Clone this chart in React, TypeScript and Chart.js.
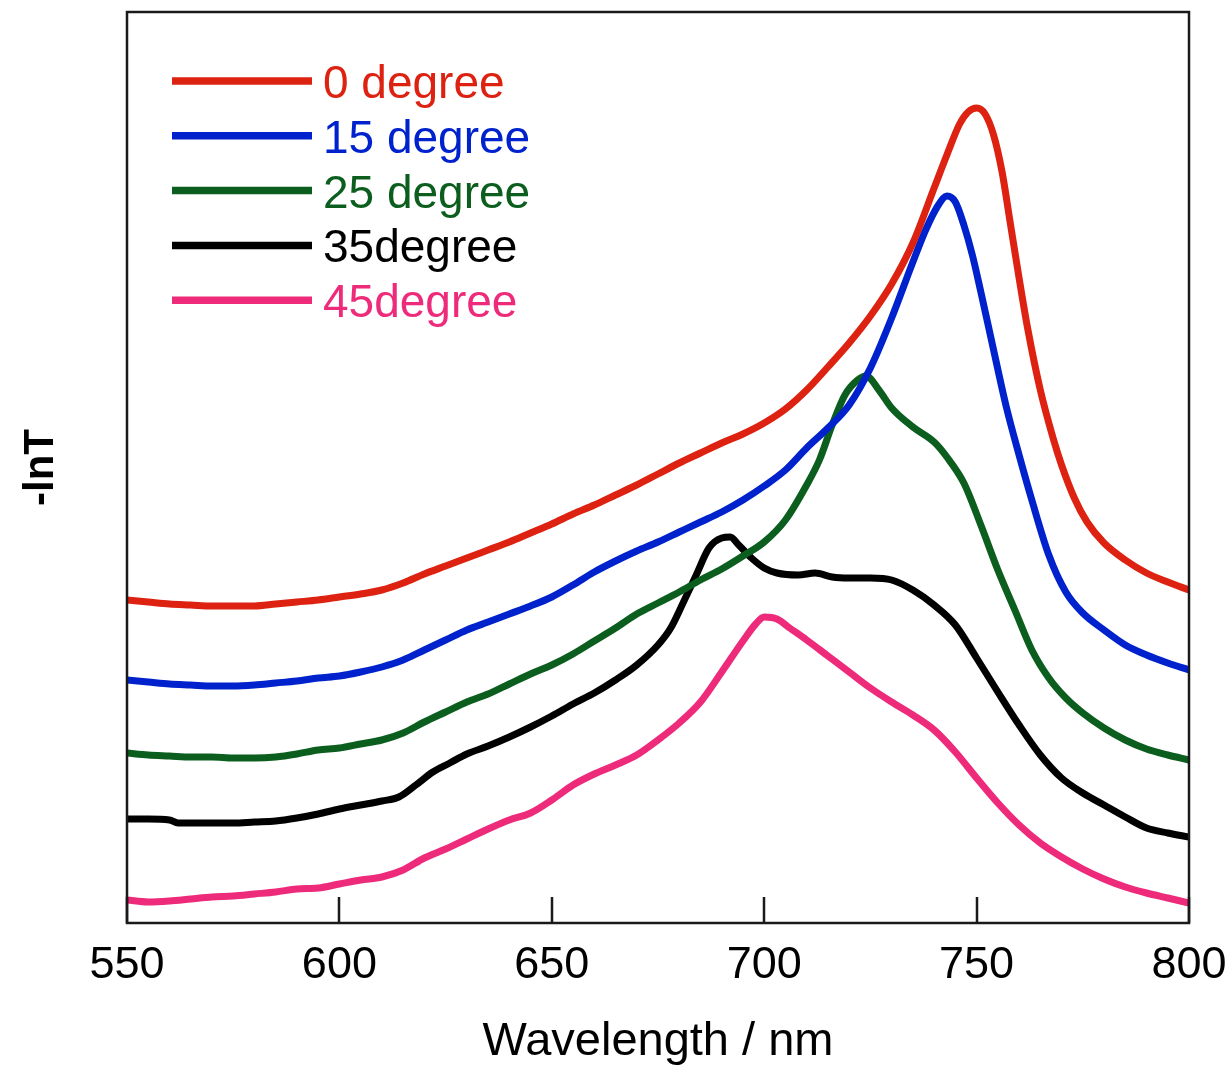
import { useEffect, useRef } from 'react';
import { Chart, registerables } from 'chart.js';

Chart.register(...registerables);

// ---- data (wavelength in nm, -lnT in arbitrary offset units) ----
const wl0 = [550,555,560,565,570,575,580,585,590,595,600,605,610,615,620,625,630,635,640,645,650,655,660,665,670,675,680,685,690,695,700,705,710,715,720,725,730,735,740,743,746,748,750,752,754,756,758,760,762,765,768,770,773,776,780,785,790,795,800];
const val0 = [3.23,3.21,3.19,3.18,3.17,3.17,3.17,3.19,3.21,3.23,3.26,3.29,3.33,3.40,3.49,3.57,3.65,3.73,3.81,3.90,3.99,4.09,4.18,4.28,4.38,4.49,4.60,4.70,4.80,4.89,5.00,5.14,5.33,5.56,5.80,6.07,6.39,6.80,7.35,7.68,7.99,8.11,8.15,8.09,7.88,7.51,6.98,6.45,5.95,5.33,4.85,4.58,4.25,4.01,3.80,3.63,3.50,3.41,3.33];

const wl15 = [550,555,560,565,570,575,580,585,590,595,600,605,610,615,620,625,630,635,640,645,650,655,660,665,670,675,680,685,690,695,700,705,710,715,720,725,730,735,738,741,743,745,747,749,751,754,757,760,763,767,771,775,780,785,790,795,800];
const val15 = [2.43,2.41,2.39,2.38,2.37,2.37,2.38,2.40,2.42,2.45,2.47,2.51,2.56,2.63,2.73,2.83,2.93,3.01,3.09,3.17,3.26,3.38,3.51,3.62,3.72,3.81,3.91,4.01,4.11,4.23,4.37,4.53,4.75,4.95,5.18,5.55,6.05,6.61,6.93,7.18,7.27,7.21,6.98,6.68,6.31,5.73,5.16,4.68,4.23,3.68,3.31,3.10,2.93,2.78,2.68,2.60,2.53];

const wl25 = [550,555,560,565,570,575,580,585,590,595,600,605,610,615,620,625,630,635,640,645,650,655,660,665,670,675,680,685,690,695,700,705,710,713,716,719,722,724,727,730,735,740,743,747,751,755,759,763,767,771,775,780,785,790,795,800];
const val25 = [1.70,1.68,1.67,1.66,1.66,1.65,1.65,1.66,1.69,1.73,1.75,1.79,1.83,1.90,2.01,2.11,2.21,2.29,2.39,2.49,2.58,2.69,2.82,2.95,3.09,3.20,3.31,3.43,3.54,3.67,3.81,4.03,4.38,4.63,4.98,5.28,5.43,5.47,5.33,5.15,4.96,4.81,4.66,4.40,3.98,3.53,3.13,2.73,2.45,2.25,2.10,1.95,1.83,1.74,1.68,1.63];

const wl35 = [550,555,560,562,565,570,575,580,585,590,595,600,605,610,614,618,622,626,630,635,640,645,650,655,660,665,670,675,678,681,684,687,690,692,694,697,700,703,708,712,716,720,725,730,735,740,745,750,755,760,765,770,775,780,785,790,795,800];
const val35 = [1.04,1.04,1.03,1.00,1.00,1.00,1.00,1.01,1.02,1.05,1.09,1.14,1.18,1.22,1.26,1.38,1.51,1.60,1.69,1.77,1.86,1.96,2.07,2.19,2.30,2.43,2.58,2.78,2.95,3.21,3.48,3.75,3.85,3.86,3.78,3.65,3.55,3.50,3.48,3.50,3.46,3.45,3.45,3.43,3.33,3.18,2.98,2.65,2.31,1.98,1.68,1.45,1.30,1.18,1.06,0.95,0.90,0.86];

const wl45 = [550,555,560,565,570,575,580,585,590,595,600,605,610,615,620,625,630,635,640,645,650,655,660,665,670,675,680,685,690,695,698,700,703,706,710,715,720,725,730,735,740,745,750,755,760,765,770,775,780,785,790,795,800];
const val45 = [0.23,0.21,0.22,0.24,0.26,0.27,0.29,0.31,0.34,0.35,0.39,0.43,0.46,0.53,0.65,0.74,0.84,0.94,1.03,1.10,1.23,1.38,1.49,1.58,1.68,1.83,2.00,2.21,2.51,2.82,2.99,3.06,3.04,2.95,2.83,2.67,2.51,2.35,2.21,2.08,1.93,1.71,1.45,1.20,0.98,0.80,0.66,0.54,0.44,0.36,0.30,0.25,0.20];

const seriesLabels = ['0 degree', '15 degree', '25 degree', '35degree', '45degree'];
const seriesColors = ['#dd2211', '#0022cc', '#0b5e1e', '#000000', '#ee2a7b'];
const seriesWl = [wl0, wl15, wl25, wl35, wl45];
const seriesVal = [val0, val15, val25, val35, val45];

const xTicks = [550, 600, 650, 700, 750, 800];

const FONT = 'Arial, "Liberation Sans", sans-serif';

const framePlugin = {
  id: 'frameAndLegend',
  afterDraw(chart: any) {
    const { ctx, chartArea } = chart;
    const { left, right, top, bottom } = chartArea;
    const xs = chart.scales.x;
    ctx.save();
    ctx.strokeStyle = '#1a1a1a';
    ctx.lineWidth = 2.5;
    ctx.strokeRect(left, top, right - left, bottom - top);
    // inward ticks
    ctx.beginPath();
    xTicks.forEach((v) => {
      const px = Math.round(xs.getPixelForValue(v));
      ctx.moveTo(px, bottom);
      ctx.lineTo(px, bottom - 26);
    });
    ctx.stroke();
    // legend
    const lx0 = 172, lx1 = 312, tx = 323, y0 = 81, dy = 54.8;
    ctx.font = `46px ${FONT}`;
    ctx.textBaseline = 'alphabetic';
    ctx.textAlign = 'left';
    seriesLabels.forEach((lab, i) => {
      const y = y0 + dy * i;
      ctx.strokeStyle = seriesColors[i];
      ctx.lineWidth = 7.5;
      ctx.beginPath();
      ctx.moveTo(lx0, y);
      ctx.lineTo(lx1, y);
      ctx.stroke();
      ctx.fillStyle = seriesColors[i];
      ctx.fillText(lab, tx, y + 17);
    });
    ctx.restore();
  },
};

export default function App() {
  const ref = useRef<HTMLCanvasElement>(null);
  useEffect(() => {
    const canvas = ref.current!;
    const chart = new Chart(canvas, {
      type: 'line',
      data: {
        datasets: seriesLabels.map((lab, i) => ({
          label: lab,
          data: seriesWl[i].map((w, j) => ({ x: w, y: seriesVal[i][j] })),
          borderColor: seriesColors[i],
          backgroundColor: seriesColors[i],
          borderWidth: 7,
          pointRadius: 0,
          cubicInterpolationMode: 'monotone' as const,
          fill: false,
        })),
      },
      options: {
        responsive: false,
        animation: false,
        maintainAspectRatio: false,
        layout: { padding: { top: 12, right: 40, left: 0, bottom: 0 } },
        plugins: { legend: { display: false }, tooltip: { enabled: false } },
        scales: {
          x: {
            type: 'linear',
            min: 550,
            max: 800,
            afterFit: (s: any) => { s.height = 143; s.paddingLeft = 0; s.paddingRight = 0; },
            afterBuildTicks: (s: any) => { s.ticks = xTicks.map((v) => ({ value: v })); },
            ticks: { font: { family: FONT, size: 45 }, color: '#000', padding: 8, maxRotation: 0 },
            grid: { display: false },
            border: { display: false },
            title: { display: true, text: 'Wavelength / nm', font: { family: FONT, size: 47, lineHeight: 1.0 }, color: '#000', padding: { top: 0, bottom: 0 } },
          },
          y: {
            type: 'linear',
            min: 0,
            max: 9.11,
            afterFit: (s: any) => { s.width = 127; },
            ticks: { display: false },
            grid: { display: false },
            border: { display: false },
            title: { display: true, text: '-lnT', font: { family: FONT, size: 42, weight: 'bold' }, color: '#000', padding: { top: 16, bottom: 0 } },
          },
        },
      },
      plugins: [framePlugin],
    });
    return () => chart.destroy();
  }, []);
  return (
    <div style={{ position: 'absolute', left: 0, top: 0, width: 1229, height: 1066, background: '#fff' }}>
      <canvas ref={ref} width={1229} height={1066} style={{ width: 1229, height: 1066, display: 'block' }} />
    </div>
  );
}
